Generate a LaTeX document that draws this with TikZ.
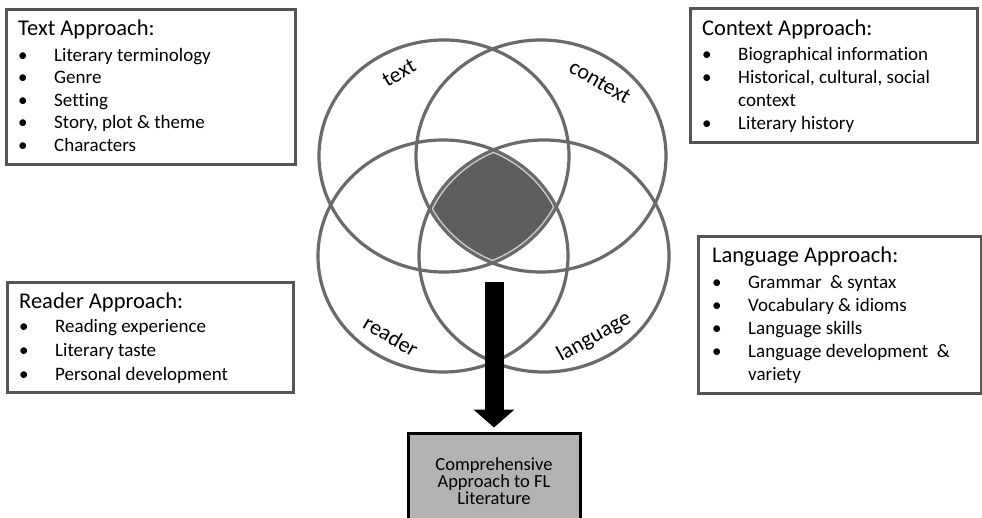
\documentclass[tikz,border=0pt]{standalone}
\usepackage{fontspec}
\setmainfont{Carlito}[Ligatures={NoCommon}]
\usetikzlibrary{arrows.meta}
\definecolor{ring}{HTML}{6A6A6A}
\definecolor{boxline}{HTML}{555555}
\definecolor{core}{HTML}{5E5E5E}
\definecolor{coreedge}{HTML}{CFCFCF}
\definecolor{compfill}{HTML}{B2B2B2}
\newcommand{\bitem}[1]{\makebox[36pt][l]{\textbullet}#1}
\begin{document}
\begin{tikzpicture}[x=1pt,y=-1pt,
  approachbox/.style={draw=boxline, line width=3pt, rectangle, inner sep=0pt},
  boxtitle/.style={anchor=base west, inner sep=0pt, font=\fontsize{22.5}{27}\selectfont},
  boxitem/.style={anchor=base west, inner sep=0pt, font=\fontsize{19}{22}\selectfont},
  venntag/.style={inner sep=0pt, font=\fontsize{22}{26}\selectfont},
  ringline/.style={draw=ring, line width=3.2pt}]
\clip (0,0) rectangle (982,518);
\fill[white] (0,0) rectangle (982,518);

% Venn: shaded core
\begin{scope}
  \clip (444,156) ellipse (125 and 116);
  \clip (541,156) ellipse (125 and 116);
  \clip (443,256) ellipse (125 and 116);
  \clip (544,256) ellipse (125 and 116);
  \fill[core] (380,100) rectangle (600,300);
  \draw[coreedge, line width=6pt] (444,156) ellipse (125 and 116);
  \draw[coreedge, line width=6pt] (541,156) ellipse (125 and 116);
  \draw[coreedge, line width=6pt] (443,256) ellipse (125 and 116);
  \draw[coreedge, line width=6pt] (544,256) ellipse (125 and 116);
\end{scope}
% Venn rings
\draw[ringline] (444,156) ellipse (125 and 116);
\draw[ringline] (541,156) ellipse (125 and 116);
\draw[ringline] (443,256) ellipse (125 and 116);
\draw[ringline] (544,256) ellipse (125 and 116);

\node[venntag, rotate=30] (ltext) at (399,73) {text};
\node[venntag, rotate=-30] (lcontext) at (600,82) {context};
\node[venntag, rotate=-30] (lreader) at (391,336) {reader};
\node[venntag, rotate=29] (llanguage) at (594,337) {language};

% Text Approach
\node[approachbox, minimum width=289pt, minimum height=155pt] (textbox) at (150.5,87.5) {};
\node[boxtitle] (t0) at (18,36) {Text Approach:};
\node[boxitem] (t1) at (18,61.5) {\bitem{Literary terminology}};
\node[boxitem] (t2) at (18,84) {\bitem{Genre}};
\node[boxitem] (t3) at (18,106.5) {\bitem{Setting}};
\node[boxitem] (t4) at (18,129) {\bitem{Story, plot \& theme}};
\node[boxitem] (t5) at (18,151.5) {\bitem{Characters}};

% Context Approach
\node[approachbox, minimum width=287pt, minimum height=134pt] (contextbox) at (833.5,76) {};
\node[boxtitle] (c0) at (702,36) {Context Approach:};
\node[boxitem] (c1) at (702,61) {\bitem{Biographical information}};
\node[boxitem] (c2) at (702,84) {\bitem{Historical, cultural, social}};
\node[boxitem] (c3) at (702,107) {\hspace*{36pt}context};
\node[boxitem] (c4) at (702,130) {\bitem{Literary history}};

% Reader Approach
\node[approachbox, minimum width=286pt, minimum height=109pt] (readerbox) at (150,337.5) {};
\node[boxtitle] (r0) at (19,309) {Reader Approach:};
\node[boxitem] (r1) at (19,333) {\bitem{Reading experience}};
\node[boxitem] (r2) at (19,356.5) {\bitem{Literary taste}};
\node[boxitem] (r3) at (19,380) {\bitem{Personal development}};

% Language Approach
\node[approachbox, minimum width=283pt, minimum height=156pt] (languagebox) at (839.5,315) {};
\node[boxtitle] (g0) at (712,263) {Language Approach:};
\node[boxitem] (g1) at (712,289) {\bitem{Grammar ~\&~syntax}};
\node[boxitem] (g2) at (712,312) {\bitem{Vocabulary \& idioms}};
\node[boxitem] (g3) at (712,335) {\bitem{Language skills}};
\node[boxitem] (g4) at (712,358) {\bitem{Language development ~\&}};
\node[boxitem] (g5) at (712,381) {\hspace*{36pt}variety};

% Result box and arrow
\node[draw=black, line width=3pt, fill=compfill, minimum width=172pt, minimum height=96pt,
      align=center, font=\fontsize{18.5}{17}\selectfont] (comp) at (494,481)
      {Comprehensive\\Approach to FL\\Literature};
\coordinate (arrowtop) at (494,282);
\draw[line width=19pt, -{Triangle[length=18pt,width=40pt]}, shorten >=4pt] (arrowtop) -- (comp.north);
\end{tikzpicture}
\end{document}
